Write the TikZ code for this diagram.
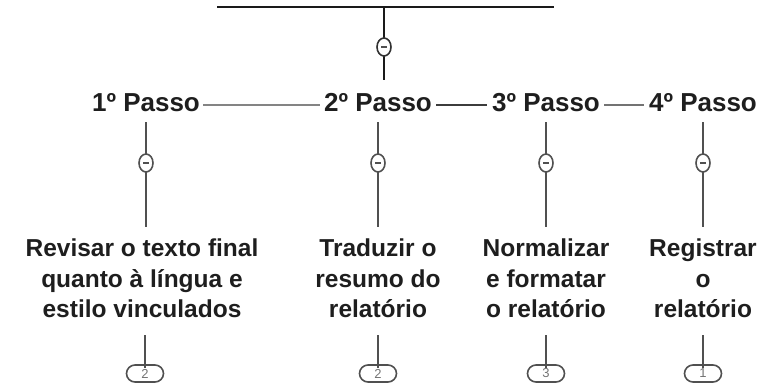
\documentclass[tikz,border=0pt]{standalone}
\usepackage{fontspec}
\setmainfont{Liberation Sans}
\usetikzlibrary{shapes.geometric}
\definecolor{txt}{HTML}{1E1E1E}
\definecolor{ln}{HTML}{505050}
\definecolor{dk}{HTML}{1A1A1A}
\begin{document}
\begin{tikzpicture}[x=1pt,y=-1pt,
  stepnode/.style={font=\fontsize{26}{30}\selectfont\bfseries, text=txt, inner sep=0pt},
  blocktext/.style={font=\fontsize{24.5}{30.5}\selectfont\bfseries, text=txt, inner sep=0pt, align=center, anchor=north},
  conn/.style={draw=ln, line width=1.4pt},
  topline/.style={draw=dk, line width=1.9pt},
  knob/.style={shape=ellipse, draw=ln, fill=white, line width=1.6pt, minimum width=14pt, minimum height=18pt, inner sep=0pt, text=ln},
  badge/.style={draw=ln, line width=1.6pt, rounded corners=8.5pt, minimum width=37pt, minimum height=17pt, inner sep=0pt, text=ln!80, font=\fontsize{13}{13}\selectfont}
]
\useasboundingbox (0,0) rectangle (763,388);

% top bar and stem
\coordinate (tl) at (217,7);
\coordinate (tr) at (554,7);
\coordinate (tm) at (384,7);
\coordinate (te) at (384,80);
\draw[topline] (tl) -- (tr);
\draw[topline] (tm) -- (te);
\node[knob, draw=dk!90] (k0) at (384,47) {\rule{6pt}{1.5pt}};

% steps
\node[stepnode] (s1) at (146,103) {1º Passo};
\node[stepnode] (s2) at (378,103) {2º Passo};
\node[stepnode] (s3) at (546,103) {3º Passo};
\node[stepnode] (s4) at (703,103) {4º Passo};
\draw[conn, draw=ln!70, shorten <=3pt, shorten >=4pt] ([yshift=-2pt]s1.east) -- ([yshift=-2pt]s2.west);
\draw[conn, line width=1.9pt, draw=dk!85, shorten <=4pt, shorten >=5pt] ([yshift=-2pt]s2.east) -- ([yshift=-2pt]s3.west);
\draw[conn, draw=ln!80, shorten <=4pt, shorten >=5pt] ([yshift=-2pt]s3.east) -- ([yshift=-2pt]s4.west);

% column stems
\foreach \i/\x in {1/146,2/378,3/546,4/703}{
  \coordinate (a\i) at (\x,122);
  \coordinate (b\i) at (\x,227);
  \draw[conn] (a\i) -- (b\i);
  \node[knob] (k\i) at (\x,163) {\rule{6pt}{1.5pt}};
}

% text blocks
\node[blocktext] (t1) at (142,239) {Revisar o texto final\\quanto à língua e\\estilo vinculados};
\node[blocktext] (t2) at (378,239) {Traduzir o\\resumo do\\relatório};
\node[blocktext] (t3) at (546,239) {Normalizar\\e formatar\\o relatório};
\node[blocktext] (t4) at (703,239) {Registrar\\o\\relatório};

% bottom badges
\foreach \i/\x/\n in {1/145/2,2/378/2,3/546/3,4/703/1}{
  \node[badge] (n\i) at (\x,373.5) {\n};
  \coordinate (d\i) at (\x,335);
  \draw[conn] (d\i) -- ([yshift=-4pt]n\i.north);
}
\end{tikzpicture}
\end{document}
